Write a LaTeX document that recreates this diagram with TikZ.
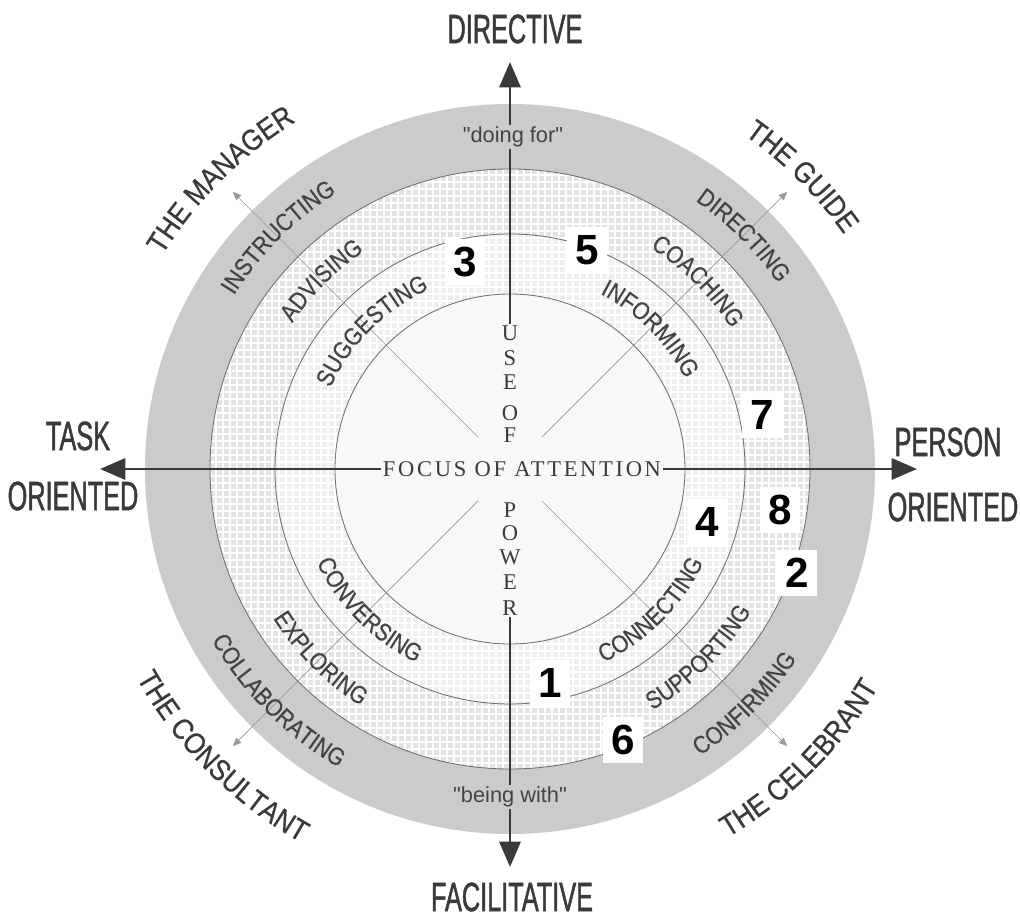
\documentclass[tikz,border=0pt]{standalone}
\usepackage{fontspec}
\usepackage{xcolor}
\usepackage{tikz}
\usetikzlibrary{arrows.meta, decorations.text}

\setmainfont{Liberation Serif}
\setsansfont{Liberation Sans}
\newfontfamily\focusfamily[LetterSpace=12]{Liberation Serif}
\newfontfamily\capsfamily[FakeStretch=0.62, FakeBold=1.2]{Liberation Sans}
\newfontfamily\rolefamily[FakeStretch=0.88, FakeBold=0.8]{Liberation Sans}
\newfontfamily\ringfamily[FakeStretch=0.87, FakeBold=0.6]{Liberation Sans}
\newfontfamily\quotefamily[Ligatures=TeXOff]{Liberation Sans}

\definecolor{bandgray}{HTML}{CBCBCB}
\definecolor{ringgray}{HTML}{E4E4E4}
\definecolor{diskgray}{HTML}{F8F8F8}
\definecolor{ringline}{HTML}{6E6E6E}
\definecolor{spokegray}{HTML}{9A9A9A}
\definecolor{axisgray}{HTML}{3A3A3A}
\definecolor{labelgray}{HTML}{444444}

\newcommand{\ringfont}{\fontsize{17.5}{20}\selectfont\ringfamily}
\newcommand{\rolefont}{\fontsize{21}{24}\selectfont\rolefamily}

\tikzset{
  axisarrow/.style={line width=2pt, draw=axisgray, -{Triangle[length=18pt, width=15pt]}},
  spoke/.style={line width=0.5pt, draw=spokegray, -{Triangle[length=6pt, width=5pt]}},
  ringcircle/.style={line width=0.6pt, draw=ringline},
  axislbl/.style={text=axisgray, font=\fontsize{29}{32}\selectfont\capsfamily},
  letter/.style={text=axisgray, inner sep=1pt, font=\fontsize{16}{18}\selectfont},
  quotelbl/.style={text=labelgray, fill=bandgray, inner sep=1.5pt, font=\fontsize{15.5}{18}\selectfont\quotefamily},
  numbox/.style={fill=white, inner sep=0pt, minimum width=1cm, minimum height=1.15cm,
    font=\fontsize{30}{30}\selectfont\sffamily\bfseries},
  arclabel/.style={decorate, decoration={text along path, text align=center,
    text color=labelgray, text={|\ringfont|#1}}},
  rolelabel/.style={decorate, decoration={text along path, text align=center,
    text color=axisgray, text={|\rolefont|#1}}}
}

\begin{document}
\begin{tikzpicture}[x=0.025cm, y=0.025cm]
\useasboundingbox (-510,-450) rectangle (510,469);

\fill[bandgray] (0,0) circle[radius=365];
\begin{scope}
  \clip (0,0) circle[radius=300];
  \fill[ringgray] (-300,-300) rectangle (300,300);
  \draw[white, line width=0.8pt, step=7] (-300,-300) grid (300,300);
\end{scope}
\fill[white, opacity=0.4, even odd rule] (0,0) circle[radius=235] (0,0) circle[radius=175];
\fill[diskgray] (0,0) circle[radius=175];
\draw[ringcircle] (0,0) circle[radius=300];
\draw[ringcircle] (0,0) circle[radius=235];
\draw[ringcircle] (0,0) circle[radius=175];

\foreach \a/\n in {45/guide, 135/manager, 225/consultant, 315/celebrant} {
  \coordinate (\n-in) at (\a:45);
  \coordinate (\n-tip) at (\a:392);
  \draw[spoke] (\n-in) -- (\n-tip);
}

\path[arclabel=INSTRUCTING] (175:326) arc[start angle=175, end angle=95, radius=326];
\path[arclabel=ADVISING] (175:262) arc[start angle=175, end angle=95, radius=262];
\path[arclabel=SUGGESTING] (175:197) arc[start angle=175, end angle=95, radius=197];
\path[arclabel=DIRECTING] (85:326) arc[start angle=85, end angle=5, radius=326];
\path[arclabel=COACHING] (85:262) arc[start angle=85, end angle=5, radius=262];
\path[arclabel=INFORMING] (85:197) arc[start angle=85, end angle=5, radius=197];
\path[arclabel=COLLABORATING] (185:344) arc[start angle=185, end angle=265, radius=344];
\path[arclabel=EXPLORING] (185:280) arc[start angle=185, end angle=265, radius=280];
\path[arclabel=CONVERSING] (185:215) arc[start angle=185, end angle=265, radius=215];
\path[arclabel=CONFIRMING] (275:344) arc[start angle=275, end angle=355, radius=344];
\path[arclabel=SUPPORTING] (275:280) arc[start angle=275, end angle=355, radius=280];
\path[arclabel=CONNECTING] (275:215) arc[start angle=275, end angle=355, radius=215];

\foreach \c/\y [count=\i] in {U/136, S/111, E/87, O/56, F/34}
  \node[letter] (use\i) at (0,\y) {\c};
\foreach \c/\y [count=\i] in {P/-41, O/-64, W/-88, E/-113, R/-139}
  \node[letter] (power\i) at (0,\y) {\c};
\node[letter, font=\fontsize{16}{18}\selectfont\focusfamily] (focus) at (12,0) {FOCUS OF ATTENTION};

\coordinate (tipN) at (0,407);
\coordinate (tipS) at (0,-398);
\coordinate (tipW) at (-410,0);
\coordinate (tipE) at (407,0);
\draw[axisarrow] (use1) -- (tipN);
\draw[axisarrow] (power5) -- (tipS);
\draw[axisarrow] (focus) -- (tipW);
\draw[axisarrow] (focus) -- (tipE);

\node[quotelbl] (doingfor) at (3,332) {"doing for"};
\node[quotelbl] (beingwith) at (0,-328) {"being with"};

\foreach \n/\x/\y in {1/40/-214, 2/287/-104, 3/-45/207, 4/197/-53, 5/77/219, 6/113/-271, 7/252/54, 8/270/-41}
  \node[numbox] (num\n) at (\x,\y) {\n};

\node[axislbl] (directive) at (5,440) {DIRECTIVE};
\node[axislbl] (facilitative) at (2,-428) {FACILITATIVE};
\node[axislbl] (task) at (-432,33) {TASK};
\node[axislbl] (taskor) at (-437,-27) {ORIENTED};
\node[axislbl] (person) at (438,27) {PERSON};
\node[axislbl] (personor) at (443,-38) {ORIENTED};

\path[rolelabel=THE MANAGER] (165:408) arc[start angle=165, end angle=105, radius=408];
\path[rolelabel=THE GUIDE] (75:408) arc[start angle=75, end angle=15, radius=408];
\path[rolelabel=THE CONSULTANT] (195:428) arc[start angle=195, end angle=255, radius=428];
\path[rolelabel=THE CELEBRANT] (285:428) arc[start angle=285, end angle=345, radius=428];
\end{tikzpicture}
\end{document}
